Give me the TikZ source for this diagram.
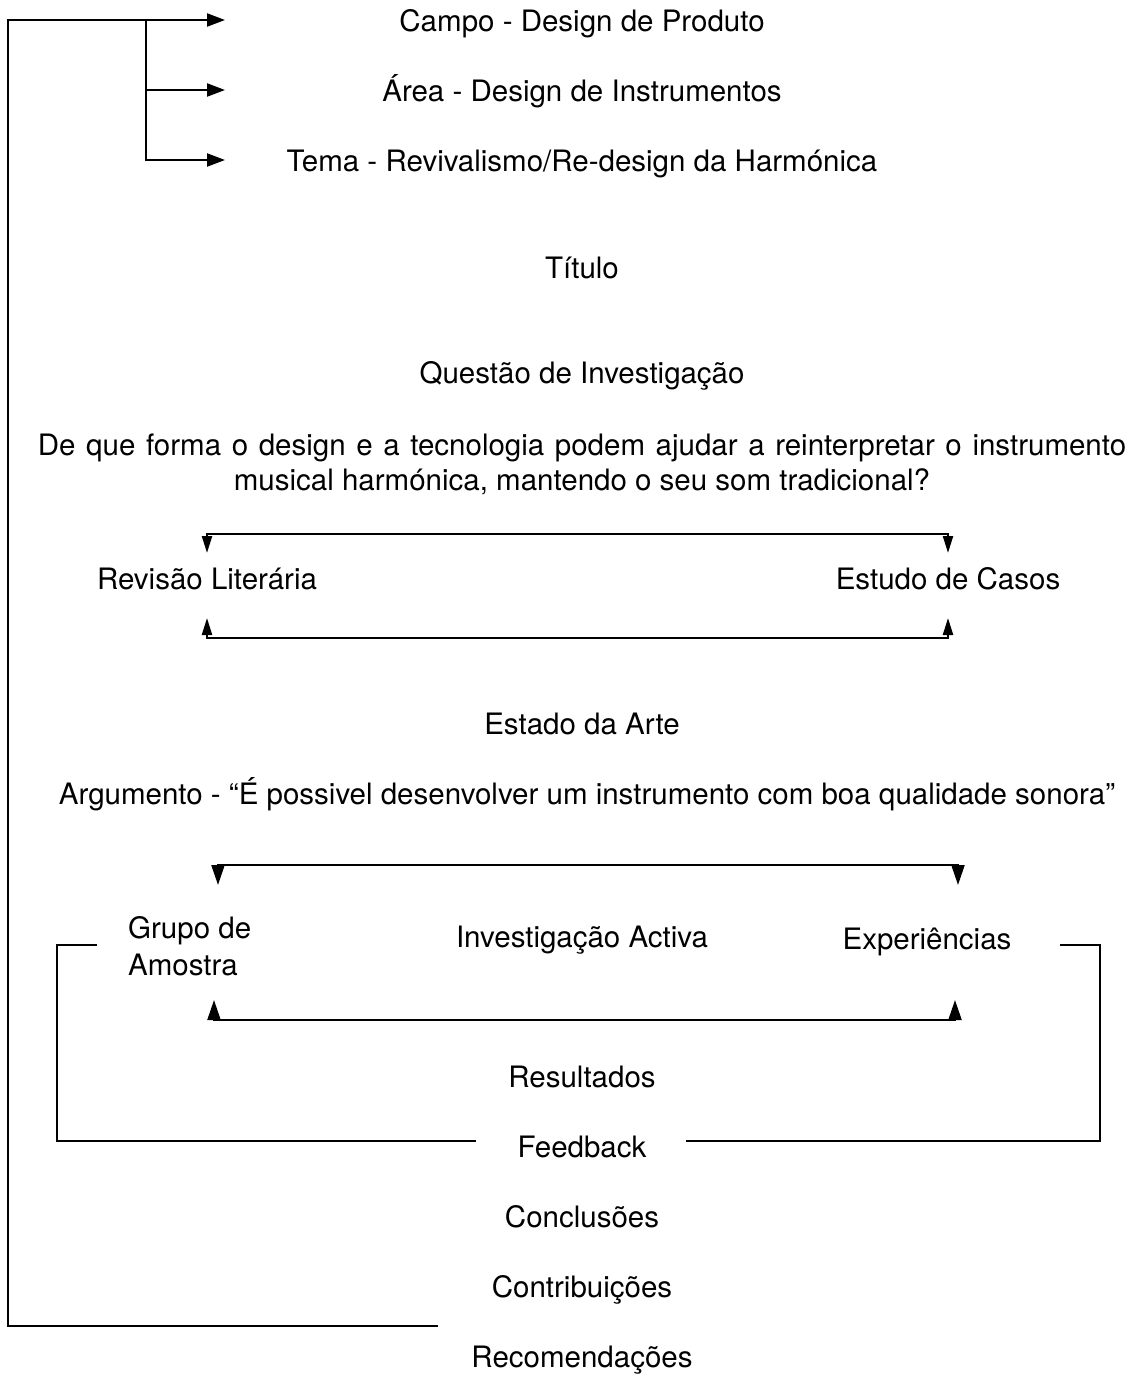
\documentclass[tikz,border=0pt]{standalone}
\usepackage{fontspec}
\setmainfont{TeX Gyre Heros}
\usetikzlibrary{arrows.meta}

\begin{document}
\begin{tikzpicture}[
  x=1pt, y=-1pt,
  font=\fontsize{29.5}{35}\selectfont,
  lbl/.style={inner sep=0pt, anchor=base},
  multi/.style={inner sep=0pt},
  ln/.style={line width=2.2pt, line cap=butt},
  harr/.style={ln, -{Triangle[length=18pt,width=13pt]}},
  varr/.style={ln, {Triangle[length=17pt,width=10pt]}-{Triangle[length=17pt,width=10pt]}},
  wvarr/.style={ln, {Triangle[length=20pt,width=13pt]}-{Triangle[length=20pt,width=13pt]}},
]
\useasboundingbox (0,0) rectangle (1136,1376);

% header
\node[lbl] (campo) at (582,31)  {Campo - Design de Produto};
\node[lbl] (area)  at (582,101) {Área - Design de Instrumentos};
\node[lbl] (tema)  at (582,171) {Tema - Revivalismo/Re-design da Harmónica};
\node[lbl] (titulo) at (582,278) {Título};
\node[lbl] (questao) at (582,383) {Questão de Investigação};
\node[multi, align=center] (pergunta) at (582,464) {{\spaceskip=10.6pt De que forma o design e a tecnologia podem ajudar a reinterpretar o instrumento}\\musical harmónica, mantendo o seu som tradicional?};

% state of the art
\node[lbl] (revisao) at (207,589) {Revisão Literária};
\node[lbl] (casos)   at (948,589) {Estudo de Casos};
\node[lbl] (estado)  at (582,734) {Estado da Arte};
\node[lbl] (argumento) at (587,804) {Argumento - “É possivel desenvolver um instrumento com boa qualidade sonora”};

% active research
\node[multi, align=left, anchor=west, font=\fontsize{29.5}{37}\selectfont] (grupo) at (128,946) {Grupo de\\Amostra};
\node[lbl] (activa) at (582,947) {Investigação Activa};
\node[lbl] (exper)  at (927,949) {Experiências};
\node[lbl] (result) at (582,1087) {Resultados};
\node[lbl] (feedback) at (582,1157) {Feedback};
\node[lbl] (concl)  at (582,1227) {Conclusões};
\node[lbl] (contrib) at (582,1297) {Contribuições};
\node[lbl] (recom)  at (582,1367) {Recomendações};

% connector ends
\coordinate (rail)   at (8,20);
\coordinate (branch) at (146,20);
\coordinate (campoIn) at (225,20);
\coordinate (areaIn)  at (225,90);
\coordinate (temaIn)  at (225,160);
\coordinate (recEnd)  at (438,1326);

\coordinate (revIn)  at (207,553);
\coordinate (casIn)  at (948,553);
\coordinate (top1)   at (580,534);
\coordinate (revOut) at (207,618);
\coordinate (casOut) at (948,618);
\coordinate (bot1)   at (580,638);

\coordinate (grpIn)  at (218,885);
\coordinate (expIn)  at (958,885);
\coordinate (top2)   at (580,865);
\coordinate (grpOut) at (214,1000);
\coordinate (expOut) at (955,1000);
\coordinate (bot2)   at (580,1020);

\coordinate (grpEnd) at (97,945);
\coordinate (expEnd) at (1060,945);
\coordinate (fbL)    at (476,1141);
\coordinate (fbR)    at (686,1141);

% outer loop and header branches
\draw[harr] (recEnd) -| (rail) -- (campoIn);
\draw[harr] (branch) |- (temaIn);
\draw[harr] (branch |- areaIn) -- (areaIn);

% literature / cases
\draw[varr] (revIn) |- (top1) -| (casIn);
\draw[varr] (revOut) |- (bot1) -| (casOut);

% sample / experiments
\draw[wvarr] (grpIn) |- (top2) -| (expIn);
\draw[wvarr] (grpOut) |- (bot2) -| (expOut);

% feedback brackets
\draw[ln] (grpEnd) -- ++(-40,0) |- (fbL);
\draw[ln] (expEnd) -- ++(40,0) |- (fbR);

\end{tikzpicture}
\end{document}
